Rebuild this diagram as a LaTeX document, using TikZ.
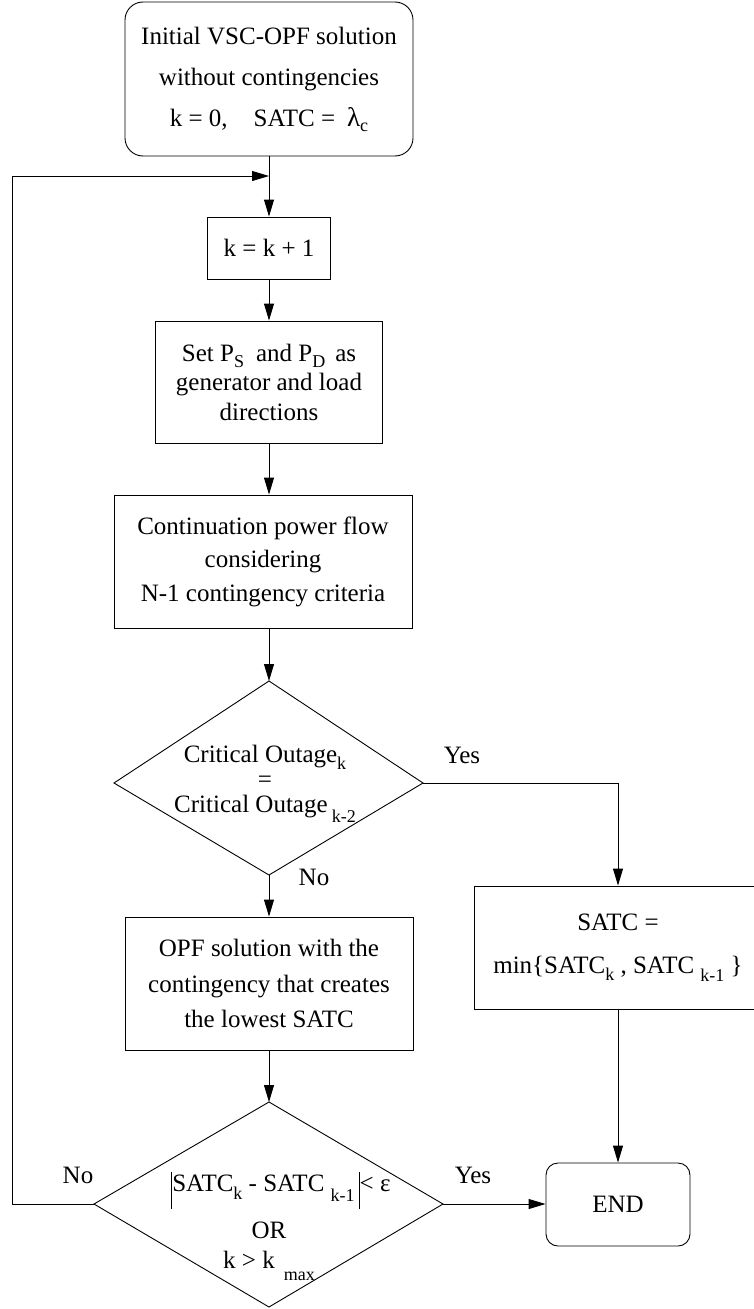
\documentclass[tikz,border=0pt]{standalone}
\usepackage{fontspec}
\setmainfont{Liberation Serif}
\usetikzlibrary{arrows.meta}
\newcommand\lsb[2][6pt]{\raisebox{-#1}{\fontsize{18}{18}\selectfont #2}}
\newcommand\absbar{\raisebox{-17pt}{\rule{0.9pt}{37pt}}}
\begin{document}
\begin{tikzpicture}[x=1pt,y=-1pt, line width=0.9pt,
  >={Triangle[length=17pt,width=10pt]},
  box/.style={draw, rectangle, inner sep=0pt, align=center},
  rbox/.style={box, rounded corners=18pt},
  lbl/.style={font=\fontsize{25}{30}\selectfont, inner sep=0pt, anchor=base},
  txt/.style={align=center, inner sep=0pt}]
\useasboundingbox (0,0) rectangle (754,1309);

% boxes
\node[rbox, minimum width=288pt, minimum height=154pt, font=\fontsize{25}{41}\selectfont] (start) at (269,79)
  {Initial VSC-OPF solution\\without contingencies\\k = 0,\hspace{26pt}SATC =\hspace{12pt}{\fontsize{27}{27}\selectfont λ}\lsb[5pt]{c}};
\node[box, minimum width=123pt, minimum height=62pt, font=\fontsize{25}{30}\selectfont] (inc) at (269,248) {k = k + 1};
\node[box, minimum width=227pt, minimum height=122pt, font=\fontsize{25}{29.5}\selectfont] (setp) at (269,382)
  {Set P\lsb{S}\hspace{12pt}and P\lsb{D}\hspace{10pt}as\\generator and load\\directions};
\node[box, minimum width=298pt, minimum height=133pt, font=\fontsize{25}{33.5}\selectfont] (cpf) at (263,561.5)
  {Continuation power flow\\considering\\N-1 contingency criteria};
\node[box, minimum width=288pt, minimum height=133pt, font=\fontsize{25}{35.5}\selectfont] (opf) at (269,983.5)
  {OPF solution with the\\contingency that creates\\the lowest SATC};
\node[box, minimum width=288pt, minimum height=123pt, font=\fontsize{25}{43}\selectfont] (satc) at (618,947.5)
  {SATC =\\min\{SATC\lsb[7pt]{k} , SATC \lsb[8pt]{k-1} \}};
\node[box, rounded corners=12pt, minimum width=144pt, minimum height=83pt, font=\fontsize{25}{30}\selectfont] (end) at (618,1204.5) {END};

% diamonds
\coordinate (d1t) at (269,681);
\coordinate (d1l) at (114,783);
\coordinate (d1r) at (423,783);
\coordinate (d1b) at (269,875);
\draw (d1t) -- (d1r) -- (d1b) -- (d1l) -- cycle;
\node[txt, font=\fontsize{25}{25}\selectfont] (d1text) at (265,784)
  {Critical Outage\lsb[7pt]{k}\\=\\Critical Outage\,\lsb[10pt]{k-2}};

\coordinate (d2t) at (269,1102);
\coordinate (d2l) at (94,1204);
\coordinate (d2r) at (443,1204);
\coordinate (d2b) at (269,1307);
\draw (d2t) -- (d2r) -- (d2b) -- (d2l) -- cycle;
\node[txt, font=\fontsize{25}{30}\selectfont] (d2text) at (269,1226)
  {\hspace*{24pt}\absbar SATC\lsb[8pt]{k} - SATC \lsb[10pt]{k-1}\,\absbar< ε\\[12pt]OR\\k > k\hspace{9pt}\lsb[12pt]{max}};

% labels
\node[lbl] (yes1) at (462,763) {Yes};
\node[lbl] (no1) at (314,885) {No};
\node[lbl] (no2) at (78,1183) {No};
\node[lbl] (yes2) at (473,1183) {Yes};

% connectors
\coordinate (join) at (269,176);
\coordinate (lc) at (12,1204);
\draw[->] (start.south) -- (inc.north);
\draw[->] (inc.south) -- (setp.north);
\draw[->] (setp.south) -- (setp.south |- cpf.north);
\draw[->] (cpf.south -| d1t) -- (d1t);
\draw[->] (d1r) -| (satc.north);
\draw[->] (d1b) -- (opf.north);
\draw[->] (opf.south) -- (d2t);
\draw[->] (d2r) -- (d2r -| end.west);
\draw[->] (satc.south) -- (end.north);
\draw[->] (d2l) -- (lc) |- (join);
\end{tikzpicture}
\end{document}
